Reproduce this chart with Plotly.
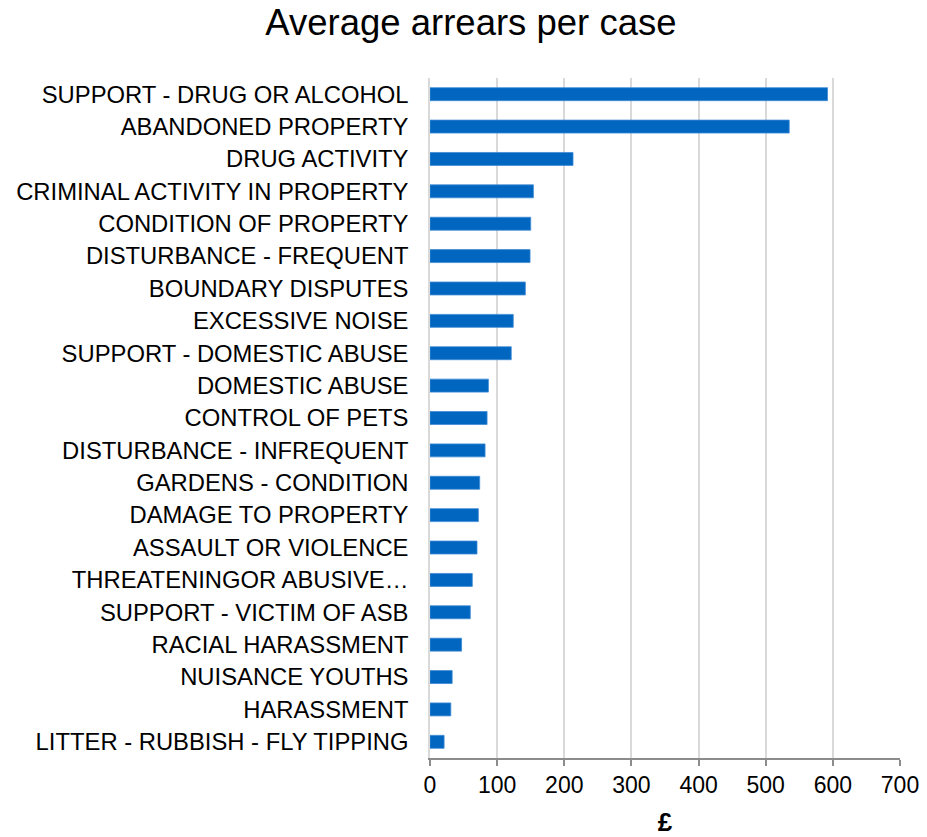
import plotly.graph_objects as go

categories = [
    "SUPPORT - DRUG OR ALCOHOL",
    "ABANDONED PROPERTY",
    "DRUG ACTIVITY",
    "CRIMINAL ACTIVITY IN PROPERTY",
    "CONDITION OF PROPERTY",
    "DISTURBANCE - FREQUENT",
    "BOUNDARY DISPUTES",
    "EXCESSIVE NOISE",
    "SUPPORT - DOMESTIC ABUSE",
    "DOMESTIC ABUSE",
    "CONTROL OF PETS",
    "DISTURBANCE - INFREQUENT",
    "GARDENS - CONDITION",
    "DAMAGE TO PROPERTY",
    "ASSAULT OR VIOLENCE",
    "THREATENINGOR ABUSIVE…",
    "SUPPORT - VICTIM OF ASB",
    "RACIAL HARASSMENT",
    "NUISANCE YOUTHS",
    "HARASSMENT",
    "LITTER - RUBBISH - FLY TIPPING",
]
values = [592, 535, 213, 154, 150, 149, 142, 124, 121, 87, 85, 82,
          74, 72, 70, 63, 60, 47, 33, 31, 21]
tick_vals = [0, 100, 200, 300, 400, 500, 600, 700]

fig = go.Figure(go.Bar(
    x=values,
    y=categories,
    orientation="h",
    marker=dict(color="#0066BF", line=dict(color="#3d8ad6", width=0.8)),
))

fig.update_layout(
    width=927, height=837,
    margin=dict(l=430, r=27, t=78, b=79),
    paper_bgcolor="white",
    plot_bgcolor="white",
    bargap=0.6,
    font=dict(family="Liberation Sans, Arial, sans-serif", size=23, color="#000000"),
    title=dict(text="Average arrears per case", x=0.508, xanchor="center",
               y=0.973, yanchor="middle",
               font=dict(size=36.5, color="#000000")),
    showlegend=False,
)
fig.update_xaxes(
    range=[0, 700],
    tickvals=tick_vals,
    automargin=False,
    showgrid=True, gridcolor="#d9d9d9", gridwidth=1.5,
    zeroline=False,
    showline=True, linecolor="#8c8c8c", linewidth=1.5,
    ticks="outside", ticklen=6, tickcolor="#8c8c8c", tickwidth=1.5,
    tickfont=dict(size=23),
    title=dict(text="<b>£</b>", font=dict(size=26), standoff=16),
)
fig.update_yaxes(
    categoryorder="array",
    categoryarray=list(reversed(categories)),
    automargin=False,
    showline=True, linecolor="#d9d9d9", linewidth=1.5,
    ticks="", ticklabelstandoff=15,
    tickfont=dict(size=23.8),
)

fig.write_html("out.html")
